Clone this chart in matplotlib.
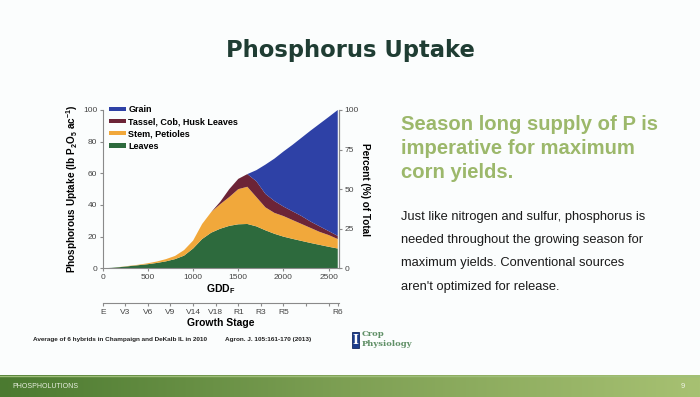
import matplotlib.pyplot as plt
import numpy as np
from matplotlib.patches import Rectangle
from matplotlib.colors import LinearSegmentedColormap

# P uptake by plant part, lb P2O5/ac
gdd = [0, 100, 200, 300, 400, 500, 600, 700, 800, 900, 1000, 1100, 1200, 1300,
       1400, 1500, 1600, 1700, 1800, 1900, 2000, 2100, 2200, 2300, 2400, 2500, 2600]
leaves = [0, 0.3, 0.8, 1.4, 2.0, 2.6, 3.4, 4.4, 5.8, 8.0, 12.5, 18.5, 22.5, 25.0,
          26.8, 27.8, 28.0, 26.5, 24.0, 21.8, 20.0, 18.6, 17.3, 16.0, 14.8, 13.6, 12.5]
stem = [0, 0, 0.1, 0.2, 0.3, 0.6, 0.9, 1.4, 2.0, 3.5, 5.0, 9.5, 13.0, 15.5,
        18.2, 22.2, 23.5, 18.5, 14.5, 13.2, 13.0, 11.9, 10.7, 9.5, 8.2, 7.4, 6.0]
tassel = [0, 0, 0, 0, 0, 0, 0, 0, 0, 0, 0, 0, 0, 1.5,
          5.0, 6.5, 8.0, 10.0, 8.5, 7.5, 6.0, 5.5, 5.0, 4.0, 3.5, 2.5, 2.0]
grain = [0, 0, 0, 0, 0, 0, 0, 0, 0, 0, 0, 0, 0, 0,
         0, 0, 0, 7.0, 18.5, 26.8, 34.8, 42.0, 49.5, 57.5, 64.8, 72.1, 79.5]
layer_names = ['Leaves', 'Stem, Petioles', 'Tassel, Cob, Husk Leaves', 'Grain']
layer_colors = ['#2d6a3d', '#f1a83b', '#6c2437', '#2e41a6']

stage_gdd = [0, 250, 500, 750, 1000, 1250, 1500, 1750, 2000, 2250, 2500, 2600]
stage_labels = ['E', 'V3', 'V6', 'V9', 'V14', 'V18', 'R1', 'R3', 'R5', '', '', 'R6']

W, H = 700, 397
bg = '#fbfdfd'
fig = plt.figure(figsize=(7, 3.97), dpi=100, facecolor=bg)

def fx(px):
    return px / W

def fy(py):
    return 1 - py / H

sans = 'Liberation Sans'
grey = '#8a8a8a'
tick_col = '#444444'

# main chart
ax = fig.add_axes([fx(102.7), fy(268.3), fx(339 - 102.7), (268.3 - 110) / H])
ax.set_facecolor('none')
ax.stackplot(gdd, leaves, stem, tassel, grain, colors=layer_colors,
             labels=layer_names, linewidth=0)
ax.set_xlim(0, 2614)
ax.set_ylim(0, 100)
ax.set_xticks([0, 500, 1000, 1500, 2000, 2500])
ax.set_yticks([0, 20, 40, 60, 80, 100])
ax.spines['top'].set_visible(False)
for s in ['left', 'right', 'bottom']:
    ax.spines[s].set_color(grey)
    ax.spines[s].set_linewidth(0.8)
ax.tick_params(colors=grey, labelcolor=tick_col, labelsize=6, length=2.5, width=0.8, pad=1.5)
for t in ax.get_xticklabels() + ax.get_yticklabels():
    t.set_fontfamily(sans)
ax.set_xlabel('GDD$_\\mathregular{F}$', fontsize=7.5, fontweight='bold', family=sans, labelpad=1)
ax.set_ylabel('Phosphorous Uptake (lb P$_\\mathregular{2}$O$_\\mathregular{5}$ ac$^\\mathregular{-1}$)',
              fontsize=7.2, fontweight='bold', family=sans, labelpad=2)

h, l = ax.get_legend_handles_labels()
leg = ax.legend(h[::-1], l[::-1], loc='upper left', bbox_to_anchor=(0.025, 1.03),
                frameon=False, handlelength=1.9, handleheight=0.35, handletextpad=0.3,
                labelspacing=0.35, borderpad=0, borderaxespad=0,
                prop={'family': sans, 'weight': 'bold', 'size': 6.5})

ax2 = ax.twinx()
ax2.set_ylim(0, 100)
ax2.set_yticks([0, 25, 50, 75, 100])
for s in ['top', 'left', 'bottom']:
    ax2.spines[s].set_visible(False)
ax2.spines['right'].set_color(grey)
ax2.spines['right'].set_linewidth(0.8)
ax2.tick_params(colors=grey, labelcolor=tick_col, labelsize=6, length=2.5, width=0.8, pad=1.5)
for t in ax2.get_yticklabels():
    t.set_fontfamily(sans)
ax2.set_ylabel('Percent (%) of Total', rotation=270, fontsize=7.2, fontweight='bold',
               family=sans, labelpad=8)

# growth stage axis
ax3 = fig.add_axes([fx(102.7), fy(303), fx(339 - 102.7), 0.0001])
ax3.set_facecolor('none')
ax3.set_xlim(0, 2614)
ax3.set_yticks([])
for s in ['top', 'left', 'right']:
    ax3.spines[s].set_visible(False)
ax3.spines['bottom'].set_color(grey)
ax3.spines['bottom'].set_linewidth(0.8)
ax3.set_xticks(stage_gdd)
ax3.set_xticklabels(stage_labels, family=sans)
ax3.tick_params(colors=grey, labelcolor=tick_col, labelsize=6, length=2.5, width=0.8, pad=2)
ax3.set_xlabel('Growth Stage', fontsize=7.5, fontweight='bold', family=sans, labelpad=1.5)

# slide title
fig.text(0.5, fy(51), 'Phosphorus Uptake', ha='center', va='center', fontsize=16.3,
         fontweight='bold', color='#1f3d33', family='DejaVu Sans')

# right side text
head = ['Season long supply of P is', 'imperative for maximum', 'corn yields.']
for i, line in enumerate(head):
    fig.text(fx(401), fy(125 + 24 * i), line, ha='left', va='center', fontsize=14.6,
             fontweight='bold', color='#9cb86b', family=sans)
body = ['Just like nitrogen and sulfur, phosphorus is',
        'needed throughout the growing season for',
        'maximum yields. Conventional sources',
        "aren't optimized for release."]
for i, line in enumerate(body):
    fig.text(fx(401), fy(216.7 + 23.3 * i), line, ha='left', va='center', fontsize=9.3,
             color='#1a1a1a', family=sans)

# source notes
fig.text(fx(33), fy(339), 'Average of 6 hybrids in Champaign and DeKalb IL in 2010',
         ha='left', va='center', fontsize=4.6, fontweight='bold', color='#222222', family=sans)
fig.text(fx(225), fy(339), 'Agron. J. 105:161-170 (2013)',
         ha='left', va='center', fontsize=4.6, fontweight='bold', color='#222222', family=sans)

# Crop Physiology logo
fig.patches.append(Rectangle((fx(351.7), fy(348)), fx(7.6), 16.3 / H, transform=fig.transFigure,
                             facecolor='#1c3d8c', edgecolor='#13285e', linewidth=0.6))
fig.text(fx(355.5), fy(340), 'I', ha='center', va='center', fontsize=9, fontweight='bold',
         color='white', family='DejaVu Serif')
fig.text(fx(362), fy(334), 'Crop', ha='left', va='center', fontsize=6, fontweight='bold',
         color='#5f8f66', family='DejaVu Serif')
fig.text(fx(362), fy(344), 'Physiology', ha='left', va='center', fontsize=6, fontweight='bold',
         color='#5f8f66', family='DejaVu Serif')

# footer bar
bar = fig.add_axes([0, 0, 1, 22 / H])
grad = np.linspace(0, 1, 256).reshape(1, -1)
cmap = LinearSegmentedColormap.from_list('bar', ['#4b7a30', '#7ea054', '#a7c172'])
bar.imshow(grad, aspect='auto', cmap=cmap, extent=[0, 1, 0, 1])
bar.axhline(0.97, color='#9fbf7a', linewidth=1)
bar.set_xlim(0, 1)
bar.set_ylim(0, 1)
bar.axis('off')
fig.text(fx(12), fy(386), 'PHOSPHOLUTIONS', ha='left', va='center', fontsize=5,
         color='#e8efe0', family=sans)
fig.text(fx(683), fy(386), '9', ha='center', va='center', fontsize=5.5,
         color='#eef3e6', family=sans)

fig.savefig('out.png', dpi=100, facecolor=bg)
